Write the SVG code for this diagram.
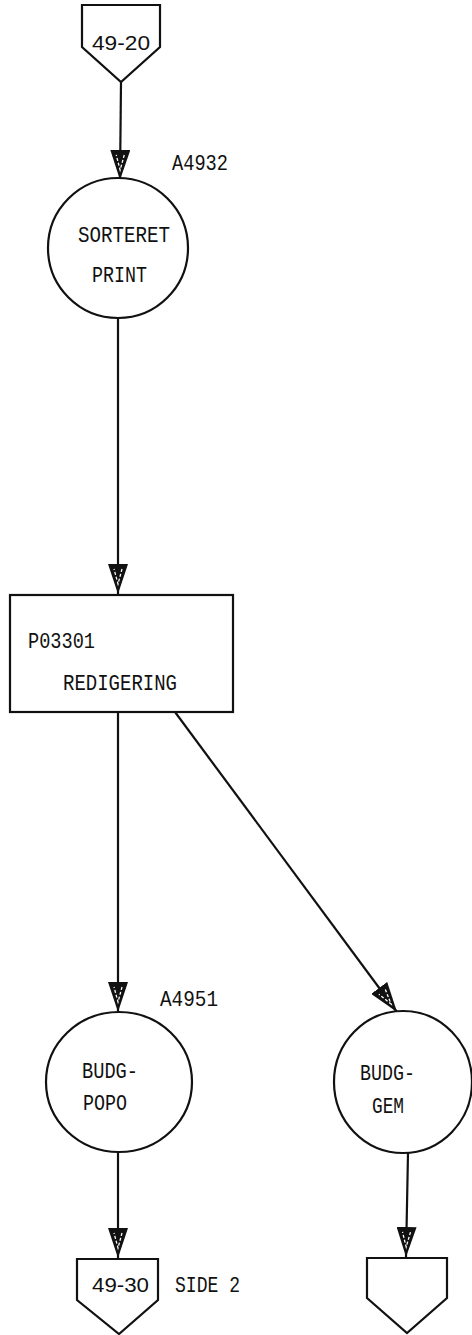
<svg xmlns="http://www.w3.org/2000/svg" width="472" height="1335" viewBox="0 0 472 1335">
<style>
.shape{fill:#fff;stroke:#111;stroke-width:2.2}
.line{fill:none;stroke:#111;stroke-width:2.2}
.tw{font-family:"Liberation Mono","DejaVu Sans Mono",monospace;font-size:22px;fill:#111}
.num{font-family:"Liberation Sans",Arial,sans-serif;font-size:21px;fill:#111}
</style>
<defs>
<marker id="arr" markerUnits="userSpaceOnUse" viewBox="0 0 30 20" refX="30" refY="10" markerWidth="30" markerHeight="20" orient="auto">
<path d="M0,0 L30,10 L0,20 Z" fill="#111"/>
<path d="M5,6 L20,10 L5,14" fill="none" stroke="#fff" stroke-width="1.3" stroke-dasharray="3 2"/>
</marker>
</defs>
<rect width="472" height="1335" fill="#fff"/>
<g id="connectors">
<line class="line" x1="121" y1="82" x2="120" y2="180" marker-end="url(#arr)"/>
<line class="line" x1="118" y1="318" x2="118" y2="594" marker-end="url(#arr)"/>
<line class="line" x1="118" y1="712" x2="118" y2="1012" marker-end="url(#arr)"/>
<line class="line" x1="175" y1="712" x2="397" y2="1012" marker-end="url(#arr)"/>
<line class="line" x1="118" y1="1152" x2="118" y2="1258" marker-end="url(#arr)"/>
<line class="line" x1="408" y1="1153" x2="406" y2="1257" marker-end="url(#arr)"/>
</g>
<g id="off-49-20">
<polygon class="shape" points="82,5 160,5 160,47 121,82 82,47"/>
<text class="num" x="92" y="50" textLength="58" lengthAdjust="spacingAndGlyphs">49-20</text>
</g>
<g id="A4932">
<circle class="shape" cx="118" cy="248" r="70"/>
<text class="tw" x="78" y="242" textLength="92" lengthAdjust="spacingAndGlyphs">SORTERET</text>
<text class="tw" x="92" y="282" textLength="55" lengthAdjust="spacingAndGlyphs">PRINT</text>
<text class="tw" x="172" y="170" textLength="56" lengthAdjust="spacingAndGlyphs">A4932</text>
</g>
<g id="P03301">
<rect class="shape" x="10" y="595" width="223" height="117"/>
<text class="tw" x="28" y="648" textLength="67" lengthAdjust="spacingAndGlyphs">P03301</text>
<text class="tw" x="63" y="690" textLength="114" lengthAdjust="spacingAndGlyphs">REDIGERING</text>
</g>
<g id="A4951">
<ellipse class="shape" cx="119" cy="1082" rx="73" ry="70"/>
<text class="tw" x="82" y="1078" textLength="56" lengthAdjust="spacingAndGlyphs">BUDG-</text>
<text class="tw" x="83" y="1110" textLength="44" lengthAdjust="spacingAndGlyphs">POPO</text>
<text class="tw" x="160" y="1006" textLength="58" lengthAdjust="spacingAndGlyphs">A4951</text>
</g>
<g id="BUDG-GEM">
<ellipse class="shape" cx="403" cy="1082" rx="69" ry="71"/>
<text class="tw" x="360" y="1080" textLength="55" lengthAdjust="spacingAndGlyphs">BUDG-</text>
<text class="tw" x="372" y="1113" textLength="32" lengthAdjust="spacingAndGlyphs">GEM</text>
</g>
<g id="off-49-30">
<polygon class="shape" points="77,1259 158,1259 158,1300 119,1334 77,1300"/>
<text class="num" x="92" y="1292" textLength="57" lengthAdjust="spacingAndGlyphs">49-30</text>
<text class="tw" x="175" y="1292" textLength="65" lengthAdjust="spacingAndGlyphs">SIDE 2</text>
</g>
<g id="off-blank">
<polygon class="shape" points="367,1258 447,1258 447,1298 407,1333 367,1298"/>
</g>
</svg>
